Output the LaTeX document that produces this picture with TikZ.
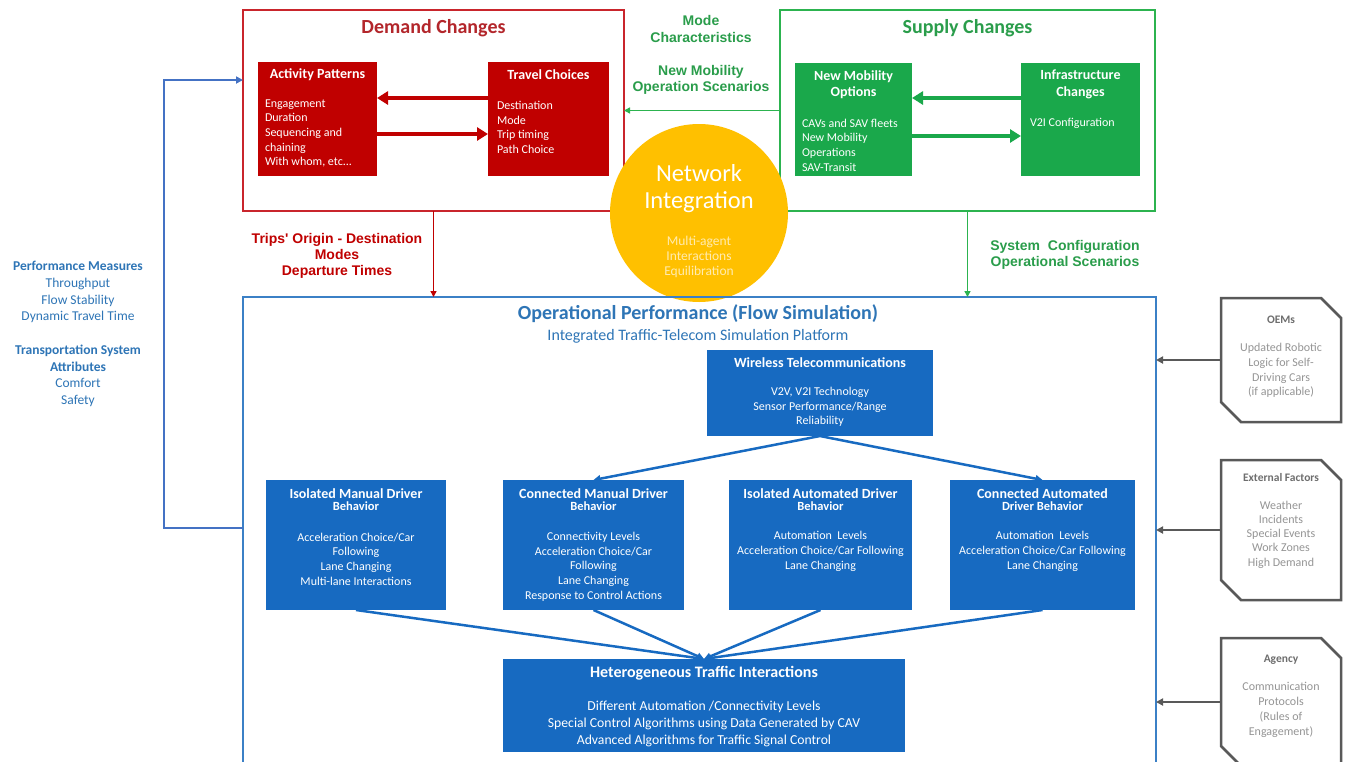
\documentclass[tikz,border=0pt]{standalone}
\usepackage{fontspec}
\setmainfont{Carlito}
\newfontfamily\arialf{Liberation Sans}
\usetikzlibrary{arrows.meta}
\newcommand\myfs[2]{\fontsize{#1}{#2}\selectfont}
\definecolor{dred}{HTML}{C00000}
\definecolor{fred}{HTML}{C9252C}
\definecolor{tred}{HTML}{B3262B}
\definecolor{gbox}{HTML}{1AA84B}
\definecolor{gframe}{HTML}{2CB34F}
\definecolor{gtext}{HTML}{2A9D4B}
\definecolor{bbox}{HTML}{176AC1}
\definecolor{bframe}{HTML}{3B80C6}
\definecolor{btext}{HTML}{2E75B6}
\definecolor{gold}{HTML}{FFC000}
\definecolor{pale}{HTML}{FFEBB0}
\definecolor{dgray}{HTML}{595959}
\definecolor{tgray}{HTML}{6E6E6E}
\definecolor{lgray}{HTML}{959595}
\definecolor{lblue}{HTML}{4472C4}
\begin{document}
\begin{tikzpicture}[x=1pt,y=-1pt,
  every node/.style={inner sep=0pt, outer sep=0pt},
  frame/.style={anchor=north west, draw, line width=2pt, fill=none},
  redbox/.style={anchor=north west, fill=dred, draw=none},
  greenbox/.style={anchor=north west, fill=gbox, draw=none},
  bluebox/.style={anchor=north west, fill=bbox, draw=none},
  pent/.style={anchor=north west, draw=none, fill=none},
  wtitle/.style={text=white, font=\bfseries\myfs{14}{16.5}, align=center},
  wbody/.style={text=white, font=\myfs{12}{14.7}},
  dtitle/.style={text=white, align=center},
  bigtitle/.style={font=\bfseries\myfs{20}{24}},
  alabel/.style={font=\arialf\bfseries\myfs{14}{16.3}, align=center},
  ptitle/.style={text=tgray, font=\bfseries\myfs{11.5}{14}},
  pbody/.style={text=lgray, font=\myfs{12}{14.8}, align=center},
  thickarrow/.style={line width=4pt, -{Triangle[length=11pt,width=13pt]}},
  thinarrow/.style={line width=1.6pt, -{Triangle[length=6pt,width=6pt]}},
  bluearrow/.style={line width=2.5pt, draw=bbox, -{Triangle[length=7pt,width=7pt]}},
  grayarrow/.style={line width=2.5pt, draw=dgray, -{Triangle[length=7pt,width=7pt]}},
  pentline/.style={line width=2.5pt, draw=dgray, line join=miter}
]
\useasboundingbox (0,0) rectangle (1347,761);
\fill[white] (0,0) rectangle (1347,761);

% ---------------- Demand changes ----------------
\node[frame, draw=fred, minimum width=381, minimum height=201] (demand) at (243,10) {};
\node[bigtitle, text=tred] (demt) at (433.5,28) {Demand Changes};
\node[redbox, minimum width=119, minimum height=114] (act) at (258,62) {};
\node[redbox, minimum width=121, minimum height=114] (trav) at (488,62) {};
\node[wtitle] (actt) at (317.5,75) {Activity Patterns};
\node[wbody, anchor=west, align=left] (actb) at (265,133.5) {Engagement\\Duration\\Sequencing and\\chaining\\With whom, etc...};
\node[wtitle] (travt) at (548.5,75) {Travel Choices};
\node[wbody, anchor=west, align=left] (travb) at (497,127.5) {Destination\\Mode\\Trip timing\\Path Choice};
\draw[thickarrow, dred] ([yshift=21pt]trav.west) -- ([yshift=21pt]act.east);
\draw[thickarrow, dred] ([yshift=-15pt]act.east) -- ([yshift=-15pt]trav.west);

% ---------------- Supply changes ----------------
\node[frame, draw=gframe, minimum width=375, minimum height=201] (supply) at (780,10) {};
\node[bigtitle, text=gtext] (supt) at (967.5,28) {Supply Changes};
\node[greenbox, minimum width=117, minimum height=113] (nmo) at (795,63) {};
\node[greenbox, minimum width=119, minimum height=113] (infra) at (1021,63) {};
\node[wtitle] (nmot) at (853.5,84.5) {New Mobility\\Options};
\node[wbody, anchor=west, align=left] (nmob) at (802,145) {CAVs and SAV fleets\\New Mobility\\Operations\\SAV-Transit};
\node[wtitle] (inft) at (1080.5,84.5) {Infrastructure\\Changes};
\node[wbody, anchor=west, align=left] (infb) at (1030,123) {V2I Configuration};
\draw[thickarrow, gbox] ([yshift=21.5pt]infra.west) -- ([yshift=21.5pt]nmo.east);
\draw[thickarrow, gbox] ([yshift=-16.5pt]nmo.east) -- ([yshift=-16.5pt]infra.west);

% ---------------- Between boxes ----------------
\node[alabel, text=gtext] (modec) at (701,29) {Mode\\Characteristics};
\node[alabel, text=gtext] (newmob) at (701,80) {New Mobility\\Operation Scenarios};
\draw[thinarrow, gframe] (supply.west) -- (demand.east);

% ---------------- Network integration ----------------
\node[circle, fill=gold, minimum size=178] (ni) at (699,213) {};
\node[text=white, font=\myfs{24.5}{29}] (nit1) at (699,173) {Network};
\node[text=white, font=\myfs{24.5}{29}] (nit2) at (699,202) {Integration};
\node[text=pale, font=\myfs{13.5}{15}, align=center] (nib) at (699,257) {Multi-agent\\Interactions\\Equilibration};

% ---------------- Operational performance ----------------
\node[frame, draw=bframe, minimum width=913, minimum height=480] (op) at (243,297) {};
\draw[thinarrow, dred] (demand.south) -- (demand.south |- op.north);
\draw[thinarrow, gframe] (supply.south) -- (supply.south |- op.north);
\node[alabel, text=dred] (trips) at (337,256) {Trips' Origin - Destination\\Modes\\Departure Times};
\node[alabel, text=gtext] (syscfg) at (1065,255) {System\ \ Configuration\\Operational Scenarios};

\node[text=btext, font=\bfseries\myfs{20}{24}] (opt) at (698,314) {Operational Performance (Flow Simulation)};
\node[text=btext, font=\myfs{16}{19}] (ops) at (698,336) {Integrated Traffic-Telecom Simulation Platform};

\node[bluebox, minimum width=226, minimum height=86] (wt) at (707,350) {};
\node[wtitle] (wtt) at (820,363) {Wireless Telecommunications};
\node[wbody, align=center] (wtb) at (820,407) {V2V, V2I Technology\\Sensor Performance/Range\\Reliability};

\node[bluebox, minimum width=180, minimum height=130] (imd) at (266,480) {};
\node[bluebox, minimum width=181, minimum height=130] (cmd) at (503,480) {};
\node[bluebox, minimum width=183, minimum height=130] (iad) at (729,480) {};
\node[bluebox, minimum width=185, minimum height=130] (cad) at (950,480) {};

\node[dtitle] (imdt) at (356,499.5) {{\bfseries\myfs{14}{15}Isolated Manual Driver}\\{\bfseries\myfs{12.5}{15}Behavior}};
\node[wbody, align=center] (imdb) at (356,559) {Acceleration Choice/Car\\Following\\Lane Changing\\Multi-lane Interactions};
\node[dtitle] (cmdt) at (593.5,499.5) {{\bfseries\myfs{14}{15}Connected Manual Driver}\\{\bfseries\myfs{12.5}{15}Behavior}};
\node[wbody, align=center] (cmdb) at (593.5,566.5) {Connectivity Levels\\Acceleration Choice/Car\\Following\\Lane Changing\\Response to Control Actions};
\node[dtitle] (iadt) at (820.5,499.5) {{\bfseries\myfs{14}{15}Isolated Automated Driver}\\{\bfseries\myfs{12.5}{15}Behavior}};
\node[wbody, align=center] (iadb) at (820.5,551.5) {Automation\ \ Levels\\Acceleration Choice/Car Following\\Lane Changing};
\node[dtitle] (cadt) at (1042.5,499.5) {{\bfseries\myfs{14}{15}Connected Automated}\\{\bfseries\myfs{12.5}{15}Driver Behavior}};
\node[wbody, align=center] (cadb) at (1042.5,551.5) {Automation\ \ Levels\\Acceleration Choice/Car Following\\Lane Changing};

\node[bluebox, minimum width=402, minimum height=93] (het) at (503,659) {};
\node[text=white, font=\bfseries\myfs{16}{18}] (hett) at (704,673) {Heterogeneous Traffic Interactions};
\node[text=white, font=\myfs{13.7}{17}, align=center] (hetb) at (704,724) {Different Automation /Connectivity Levels\\Special Control Algorithms using Data Generated by CAV\\Advanced Algorithms for Traffic Signal Control};

\draw[bluearrow] (wt.south) -- (cmd.north);
\draw[bluearrow] (wt.south) -- (cad.north);
\foreach \d in {imd,cmd,iad,cad} \draw[bluearrow] (\d.south) -- (het.north);

% ---------------- Feedback loop ----------------
\coordinate (fbc) at (164,300);
\draw[line width=2pt, draw=lblue, -{Triangle[length=7pt,width=7pt]}] ([yshift=9pt]op.west) -| (fbc) |- ([yshift=30.5pt]demand.west);
\node[text=btext, font=\myfs{13.5}{16.75}, align=center] (perf) at (78,334) {\textbf{Performance Measures}\\Throughput\\Flow Stability\\Dynamic Travel Time\\[16.75pt]\textbf{Transportation System}\\\textbf{Attributes}\\Comfort\\Safety};

% ---------------- Right inputs ----------------
\node[pent, minimum width=120, minimum height=124] (oem) at (1221,298) {};
\node[pent, minimum width=120, minimum height=140] (ext) at (1221,460) {};
\node[pent, minimum width=120, minimum height=128] (agency) at (1221,638) {};
\foreach \p in {oem,ext,agency}{
  \draw[pentline] (\p.north west) -- ([xshift=-20pt]\p.north east) -- ([yshift=-20pt]\p.north east) -- (\p.south east) -- ([xshift=20pt]\p.south west) -- ([yshift=20pt]\p.south west) -- cycle;
  \draw[grayarrow] (\p.west) -- (\p.west -| op.east);
}
\node[ptitle] (oemt) at (1281,320) {OEMs};
\node[pbody] (oemb) at (1281,370.5) {Updated Robotic\\Logic for Self-\\Driving Cars\\(if applicable)};
\node[ptitle] (extt) at (1281,477) {External Factors};
\node[pbody, font=\myfs{12}{14.3}] (extb) at (1281,534.5) {Weather\\Incidents\\Special Events\\Work Zones\\High Demand};
\node[ptitle] (agt) at (1281,660) {Agency};
\node[pbody] (agb) at (1281,710) {Communication\\Protocols\\(Rules of\\Engagement)};
\end{tikzpicture}
\end{document}
